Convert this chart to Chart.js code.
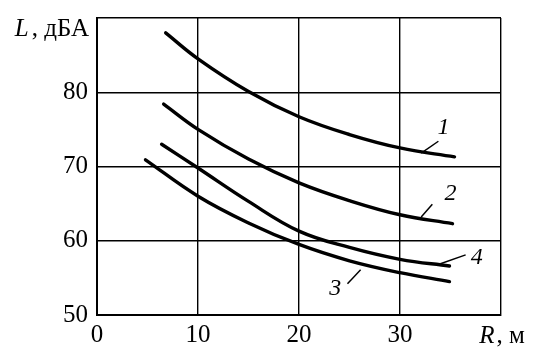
<!DOCTYPE html>
<html>
<head>
<meta charset="utf-8">
<script src="https://cdn.jsdelivr.net/npm/chart.js@4.4.1/dist/chart.umd.min.js"></script>
<style>
  html, body { margin: 0; padding: 0; background: #fff; }
  #wrap { width: 535px; height: 357px; }
</style>
</head>
<body>
<div id="wrap"><canvas id="c" width="535" height="357"></canvas></div>
<script>
// ---- data ----
const curve1X = [6.8, 10, 15, 20, 25, 30, 35.4];
const curve1Y = [88.0, 84.5, 80.1, 76.7, 74.3, 72.5, 71.3];
const curve2X = [6.6, 10, 15, 20, 25, 30, 35.2];
const curve2Y = [78.4, 75.0, 71.0, 67.8, 65.4, 63.5, 62.3];
const curve3X = [4.8, 10, 15, 20, 25, 30, 34.9];
const curve3Y = [70.9, 66.0, 62.4, 59.5, 57.3, 55.7, 54.5];
const curve4X = [6.4, 10, 15, 20, 25, 30, 34.9];
const curve4Y = [73.0, 69.8, 65.3, 61.3, 59.1, 57.5, 56.6];
const curveNames = ['1', '2', '3', '4'];
const xTicks = [0, 10, 20, 30, 40];
const yTicks = [50, 60, 70, 80, 90];
const xTitleMain = 'R';
const xTitleUnit = ', м';
const yTitleMain = 'L';
const yTitleUnit = ', дБА';

// curve-number annotations (data units)
const curveLabels = [
  { text: curveNames[0], tx: 34.3, ty: 75.2, x1: 32.1, y1: 71.8, x2: 33.8, y2: 73.4 },
  { text: curveNames[1], tx: 35.0, ty: 66.3, x1: 32.1, y1: 63.2, x2: 33.2, y2: 64.9 },
  { text: curveNames[2], tx: 23.6, ty: 53.6, x1: 24.8, y1: 54.2, x2: 26.1, y2: 56.1 },
  { text: curveNames[3], tx: 37.6, ty: 57.7, x1: 34.0, y1: 56.9, x2: 36.5, y2: 58.1 }
];

const SERIF = '"Liberation Serif", "DejaVu Serif", serif';
const FS = 25;
const toPts = (xs, ys) => xs.map((x, i) => ({ x: x, y: ys[i] }));

function lineDs(xs, ys, name) {
  return {
    label: name,
    data: toPts(xs, ys),
    borderColor: '#000',
    borderWidth: 3.4,
    pointRadius: 0,
    fill: false,
    tension: 0.4,
    cubicInterpolationMode: 'default',
    borderCapStyle: 'round'
  };
}

const textPlugin = {
  id: 'texts',
  afterDraw(chart) {
    const ctx = chart.ctx;
    const xs = chart.scales.x, ys = chart.scales.y;
    ctx.save();
    ctx.fillStyle = '#000';
    ctx.strokeStyle = '#000';
    // curve labels with leader lines
    ctx.lineWidth = 1.5;
    curveLabels.forEach(l => {
      ctx.beginPath();
      ctx.moveTo(xs.getPixelForValue(l.x1), ys.getPixelForValue(l.y1));
      ctx.lineTo(xs.getPixelForValue(l.x2), ys.getPixelForValue(l.y2));
      ctx.stroke();
      ctx.font = 'italic 24px ' + SERIF;
      ctx.textAlign = 'center';
      ctx.textBaseline = 'middle';
      ctx.fillText(l.text, xs.getPixelForValue(l.tx), ys.getPixelForValue(l.ty));
    });
    // y axis title at top tick
    ctx.textBaseline = 'alphabetic';
    ctx.textAlign = 'left';
    const yRight = chart.chartArea.left - 8;
    const yBase = ys.getPixelForValue(yTicks[yTicks.length - 1]) + 18;
    ctx.font = FS + 'px ' + SERIF;
    const wUnit = ctx.measureText(yTitleUnit).width;
    ctx.font = 'italic ' + FS + 'px ' + SERIF;
    const wMain = ctx.measureText(yTitleMain).width;
    let x0 = yRight - wUnit - wMain - 3;
    ctx.fillText(yTitleMain, x0, yBase);
    ctx.font = FS + 'px ' + SERIF;
    ctx.fillText(yTitleUnit, x0 + wMain + 3, yBase);
    // x axis title at last tick
    const xc = xs.getPixelForValue(xTicks[xTicks.length - 1]);
    const xBase = chart.chartArea.bottom + 28;
    ctx.font = 'italic ' + FS + 'px ' + SERIF;
    const wR = ctx.measureText(xTitleMain).width;
    ctx.font = FS + 'px ' + SERIF;
    const wM = ctx.measureText(xTitleUnit).width;
    x0 = xc - (wR + wM) / 2;
    ctx.font = 'italic ' + FS + 'px ' + SERIF;
    ctx.fillText(xTitleMain, x0, xBase);
    ctx.font = FS + 'px ' + SERIF;
    ctx.fillText(xTitleUnit, x0 + wR + 2, xBase);
    ctx.restore();
  }
};

new Chart(document.getElementById('c'), {
  type: 'line',
  data: {
    datasets: [
      lineDs(curve1X, curve1Y, curveNames[0]),
      lineDs(curve2X, curve2Y, curveNames[1]),
      lineDs(curve3X, curve3Y, curveNames[2]),
      lineDs(curve4X, curve4Y, curveNames[3])
    ]
  },
  options: {
    responsive: false,
    animation: false,
    layout: { padding: { left: 0, top: 18, right: 34, bottom: 0 } },
    plugins: { legend: { display: false }, tooltip: { enabled: false } },
    scales: {
      x: {
        type: 'linear',
        min: xTicks[0], max: xTicks[xTicks.length - 1],
        afterBuildTicks: s => { s.ticks = xTicks.map(v => ({ value: v })); },
        afterFit: s => { s.height = 42; s.paddingLeft = 0; s.paddingRight = 0; },
        ticks: {
          callback: v => (v === xTicks[xTicks.length - 1] ? '' : String(v)),
          font: { family: SERIF, size: FS },
          color: '#000',
          padding: 5,
          maxRotation: 0
        },
        grid: { color: '#000', lineWidth: 1.4, drawTicks: false },
        border: { display: true, color: '#000', width: 2 }
      },
      y: {
        type: 'linear',
        min: yTicks[0], max: yTicks[yTicks.length - 1],
        afterBuildTicks: s => { s.ticks = yTicks.map(v => ({ value: v })); },
        afterFit: s => { s.width = 97; s.paddingTop = 0; s.paddingBottom = 0; },
        ticks: {
          callback: v => (v === yTicks[yTicks.length - 1] ? '' : String(v)),
          font: { family: SERIF, size: FS },
          color: '#000',
          padding: 9
        },
        grid: { color: '#000', lineWidth: 1.4, drawTicks: false },
        border: { display: true, color: '#000', width: 2 }
      }
    }
  },
  plugins: [textPlugin]
});
</script>
</body>
</html>
